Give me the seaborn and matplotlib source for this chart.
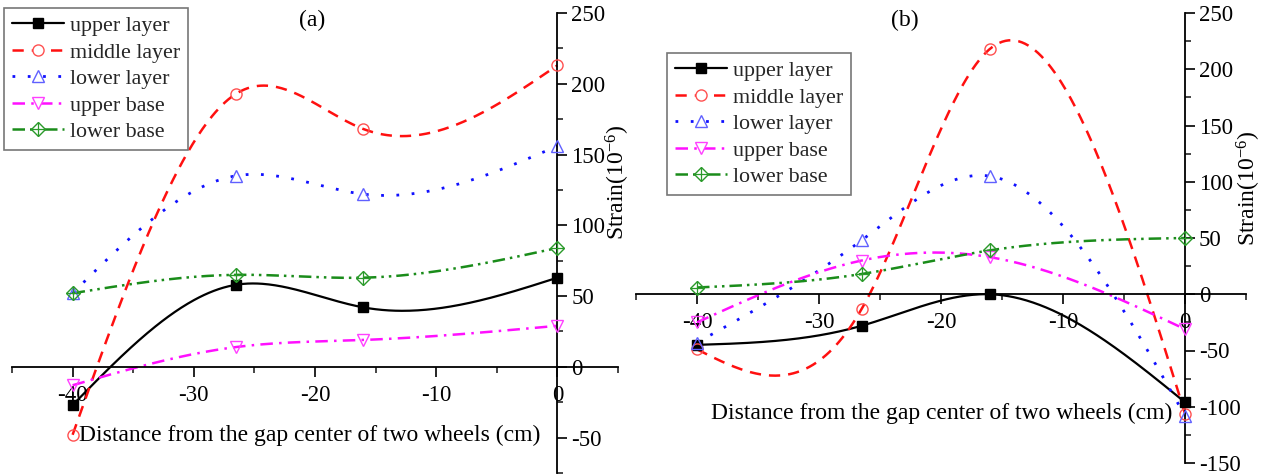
import numpy as np
import pandas as pd
import matplotlib
matplotlib.use("Agg")
import matplotlib.pyplot as plt
import seaborn as sns
from matplotlib.lines import Line2D
from matplotlib.legend_handler import HandlerTuple
from matplotlib.ticker import MultipleLocator

# ---------------- data ----------------
x_pos = [-40, -26.5, -16, 0]
series_names = ["upper layer", "middle layer", "lower layer", "upper base", "lower base"]

a_upper_layer = [-27, 58, 42, 63]
a_middle_layer = [-48, 193, 168, 213]
a_lower_layer = [52, 135, 122, 156]
a_upper_base = [-13, 14, 19, 29]
a_lower_base = [52, 65, 63, 84]

b_upper_layer = [-45, -28, 0, -96]
b_middle_layer = [-49, -13, 218, -106]
b_lower_layer = [-43, 48, 105, -108]
b_upper_base = [-25, 30, 33, -31]
b_lower_base = [6, 18, 39, 50]

x_ticks = [-40, -30, -20, -10, 0]
x_ticklabels = ["-40", "-30", "-20", "-10", "0"]

# ---------------- style ----------------
sns.set_style("white")
plt.rcParams["font.family"] = ["Liberation Serif", "DejaVu Serif"]
plt.rcParams["mathtext.fontset"] = "custom"
plt.rcParams["mathtext.rm"] = "Liberation Serif"
plt.rcParams["axes.unicode_minus"] = False

styles = {
    "upper layer": dict(color="black", ls="-", lw=1.6, marker="s", mfc="black", mec="black", ms=7),
    "middle layer": dict(color="#ff1010", ls=(0, (4.5, 3.2)), lw=1.8, marker="o", mfc="none", mec="#ff5050", ms=8),
    "lower layer": dict(color="#1010ff", ls=(0, (1, 4.5)), lw=2.0, marker="^", mfc="none", mec="#6060ff", ms=9),
    "upper base": dict(color="#ff10ff", ls=(0, (5, 2.5, 1, 2.5)), lw=1.8, marker="v", mfc="none", mec="#ff40ff", ms=9),
    "lower base": dict(color="#1a8c1a", ls=(0, (5, 2, 1, 2, 1, 2)), lw=1.8, marker="D", mfc="none", mec="#2a9a2a", ms=7),
}


def natural_spline(x, y, n=300):
    x = np.asarray(x, float)
    y = np.asarray(y, float)
    k = len(x)
    h = np.diff(x)
    A = np.zeros((k, k))
    r = np.zeros(k)
    A[0, 0] = 1
    A[-1, -1] = 1
    for i in range(1, k - 1):
        A[i, i - 1] = h[i - 1]
        A[i, i] = 2 * (h[i - 1] + h[i])
        A[i, i + 1] = h[i]
        r[i] = 6 * ((y[i + 1] - y[i]) / h[i] - (y[i] - y[i - 1]) / h[i - 1])
    M = np.linalg.solve(A, r)
    xs = np.linspace(x[0], x[-1], n)
    ys = np.empty_like(xs)
    for j, t in enumerate(xs):
        i = min(np.searchsorted(x, t, side="right") - 1, k - 2)
        i = max(i, 0)
        a = x[i + 1] - t
        b = t - x[i]
        ys[j] = (M[i] * a ** 3 / (6 * h[i]) + M[i + 1] * b ** 3 / (6 * h[i])
                 + (y[i] / h[i] - M[i] * h[i] / 6) * a
                 + (y[i + 1] / h[i] - M[i + 1] * h[i] / 6) * b)
    return xs, ys


def draw_panel(ax, data, ylim, ymajor):
    for name, vals in zip(series_names, data):
        st = styles[name]
        xs, ys = natural_spline(x_pos, vals)
        sns.lineplot(x=xs, y=ys, ax=ax, color=st["color"], linestyle=st["ls"],
                     lw=st["lw"], sort=False, estimator=None, zorder=2)
        ax.plot(x_pos, vals, ls="none", marker=st["marker"], mfc=st["mfc"],
                mec=st["mec"], ms=st["ms"], mew=1.0, zorder=3)
        if name == "lower base":
            ax.plot(x_pos, vals, ls="none", marker="+", mec=st["mec"], ms=9.5, mew=0.9, zorder=3)
    ax.set_xlim(-45, 5)
    ax.set_ylim(*ylim)
    for s in ["left", "top"]:
        ax.spines[s].set_visible(False)
    ax.spines["right"].set_position(("data", 0))
    ax.spines["bottom"].set_position(("data", 0))
    for s in ["right", "bottom"]:
        ax.spines[s].set_linewidth(1.3)
        ax.spines[s].set_color("black")
    ax.yaxis.set_ticks_position("right")
    ax.xaxis.set_ticks_position("bottom")
    ax.set_xticks(x_ticks)
    ax.set_xticklabels(x_ticklabels)
    ax.xaxis.set_minor_locator(MultipleLocator(5))
    ax.yaxis.set_major_locator(MultipleLocator(ymajor))
    ax.yaxis.set_minor_locator(MultipleLocator(ymajor / 2))
    ax.tick_params(axis="both", which="major", direction="out", length=7, width=1.2,
                   labelsize=16.5, colors="black")
    ax.tick_params(axis="both", which="minor", direction="out", length=4, width=1.2)
    ax.tick_params(axis="x", which="major", pad=6)
    ax.tick_params(axis="y", which="major", pad=3)
    ax.set_xlabel("")
    ax.set_ylabel("")
    ax.set_facecolor("none")


def legend_handles():
    hs = []
    for name in series_names:
        st = styles[name]
        face = "white" if st["mfc"] == "none" else st["mfc"]
        l = Line2D([], [], color=st["color"], linestyle=st["ls"], lw=st["lw"],
                   marker=st["marker"], mfc=face, mec=st["mec"], ms=st["ms"], mew=1.0)
        if name == "lower base":
            p = Line2D([], [], ls="none", marker="+", mec=st["mec"], ms=9.5, mew=0.9)
            hs.append((l, p))
        else:
            hs.append(l)
    return hs


W, H = 1271, 476
fig = plt.figure(figsize=(W / 100, H / 100), dpi=100)
fig.patch.set_facecolor("white")

ax1 = fig.add_axes([12 / W, 1 - 473 / H, 606 / W, 460 / H])
ax2 = fig.add_axes([636 / W, 1 - 463 / H, 610 / W, 450 / H])

draw_panel(ax1, [a_upper_layer, a_middle_layer, a_lower_layer, a_upper_base, a_lower_base], (-75, 250), 50)
draw_panel(ax2, [b_upper_layer, b_middle_layer, b_lower_layer, b_upper_base, b_lower_base], (-150, 250), 50)

for ax, pos in [(ax1, (4, 8)), (ax2, (667, 53))]:
    leg = ax.legend(legend_handles(), series_names, loc="upper left",
                    bbox_to_anchor=(pos[0] / W, 1 - pos[1] / H), bbox_transform=fig.transFigure,
                    fontsize=15.8, frameon=True, fancybox=False, framealpha=1,
                    edgecolor="#777777", handlelength=2.4, handletextpad=0.25,
                    labelspacing=0.28, borderpad=0.35, borderaxespad=0,
                    handler_map={tuple: HandlerTuple(ndivide=1)})
    leg.get_frame().set_linewidth(1.2)

lab_kw = dict(fontsize=17, color="black")
fig.text(312 / W, 1 - 20 / H, "(a)", ha="center", va="center", **lab_kw)
fig.text(905 / W, 1 - 20 / H, "(b)", ha="center", va="center", **lab_kw)
fig.text(310 / W, 1 - 435 / H, "Distance from the gap center of two wheels (cm)",
         ha="center", va="center", **lab_kw)
fig.text(942 / W, 1 - 413 / H, "Distance from the gap center of two wheels (cm)",
         ha="center", va="center", **lab_kw)
fig.text(618 / W, 1 - 182 / H, r"Strain(10$\mathregular{^{-6}}$)", rotation=90,
         ha="center", va="center", **lab_kw)
fig.text(1249 / W, 1 - 188 / H, r"Strain(10$\mathregular{^{-6}}$)", rotation=90,
         ha="center", va="center", **lab_kw)

fig.savefig("out.png", dpi=100, facecolor="white")
